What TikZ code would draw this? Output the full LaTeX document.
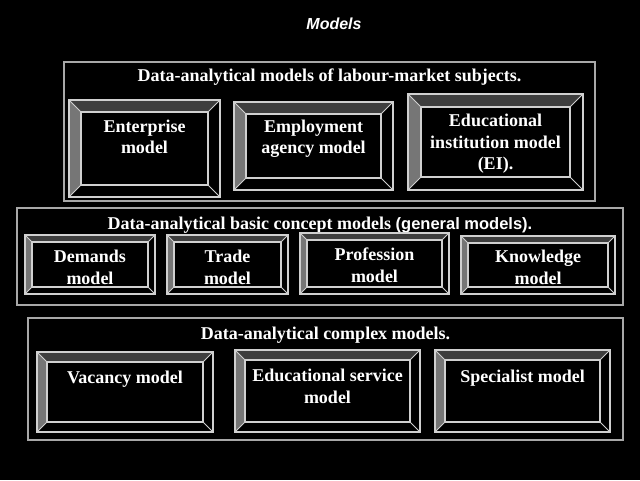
\documentclass[tikz,border=0pt]{standalone}
\usepackage{fontspec}
\setmainfont{Liberation Serif}
\setsansfont{Liberation Sans}
\usepackage{tikz}
\usetikzlibrary{positioning}
\definecolor{edge}{HTML}{D0D0D0}
\definecolor{framegray}{HTML}{A8A8A8}
\definecolor{topgray}{HTML}{3E3E3E}
\definecolor{leftgray}{HTML}{767676}
\begin{document}
\begin{tikzpicture}[
x=1pt,y=1pt,
frame/.style={draw=framegray,line width=1.4pt,inner sep=0pt},
bevel/.style={draw=edge,fill=black,line width=1.1pt,inner sep=0pt,
  path picture={
    \path (path picture bounding box.north west) coordinate (pa)
          (path picture bounding box.north east) coordinate (pb)
          (path picture bounding box.south east) coordinate (pc)
          (path picture bounding box.south west) coordinate (pd);
    \path ([shift={(#1,-#1)}]pa) coordinate (qa)
          ([shift={(-#1,-#1)}]pb) coordinate (qb)
          ([shift={(-#1,#1)}]pc) coordinate (qc)
          ([shift={(#1,#1)}]pd) coordinate (qd);
    \fill[topgray] (pa)--(pb)--(qb)--(qa)--cycle;
    \fill[leftgray] (pa)--(qa)--(qd)--(pd)--cycle;
    \draw[edge,line width=1.1pt] (qa) rectangle (qc);
    \draw[edge,line width=0.9pt] (pa)--(qa) (pb)--(qb) (pc)--(qc) (pd)--(qd);
  }},
boxtext/.style={text=white,align=center,anchor=base,inner sep=0pt,font=\fontsize{18}{21.5}\selectfont\bfseries},
grouptitle/.style={text=white,anchor=base,inner sep=0pt,font=\fontsize{18}{21}\selectfont\bfseries}
]
\fill[black] (0,0) rectangle (640,480);

\node[text=white,anchor=base,inner sep=0pt,font=\sffamily\bfseries\itshape\fontsize{16}{18}\selectfont] (head) at (334,450) {Models};

% labour-market subjects
\node[frame,minimum width=531pt,minimum height=139pt] (grp1) at (329.5,348.5) {};
\node[grouptitle] (tit1) at (329.5,398) {Data-analytical models of labour-market subjects.};
\node[bevel=12pt,minimum width=151pt,minimum height=97pt] (ent) at (144.5,331.5) {};
\node[boxtext] (t-ent) at (144.5,326) {Enterprise\\model};
\node[bevel=12pt,minimum width=159pt,minimum height=88pt] (agency) at (313.5,334) {};
\node[boxtext] (t-agency) at (313.5,326) {Employment\\agency model};
\node[bevel=13pt,minimum width=175pt,minimum height=96pt] (edu) at (495.5,338) {};
\node[boxtext] (t-edu) at (495.5,310) {Educational\\institution model\\(EI).};

% general models
\node[frame,minimum width=606pt,minimum height=97pt] (grp2) at (320,223.5) {};
\node[grouptitle] (tit2) at (320,250) {Data-analytical basic concept models {\sffamily\fontsize{16.5}{20}\selectfont(general models).}};
\node[bevel=7pt,minimum width=130pt,minimum height=59pt] (dem) at (90,215.5) {};
\node[boxtext] (t-dem) at (90,196) {Demands\\model};
\node[bevel=7pt,minimum width=121pt,minimum height=59pt] (trade) at (227.5,215.5) {};
\node[boxtext] (t-trade) at (227.5,196) {Trade\\model};
\node[bevel=7pt,minimum width=149pt,minimum height=61pt] (prof) at (374.5,216.5) {};
\node[boxtext] (t-prof) at (374.5,198) {Profession\\model};
\node[bevel=7pt,minimum width=154pt,minimum height=58pt] (know) at (538,215) {};
\node[boxtext] (t-know) at (538,196) {Knowledge\\model};

% complex models
\node[frame,minimum width=595pt,minimum height=122pt] (grp3) at (325.5,101) {};
\node[grouptitle] (tit3) at (325.5,141) {Data-analytical complex models.};
\node[bevel=10pt,minimum width=176pt,minimum height=80pt] (vac) at (125,88) {};
\node[boxtext] (t-vac) at (125,97) {Vacancy model};
\node[bevel=10pt,minimum width=185pt,minimum height=82pt] (serv) at (327.5,89) {};
\node[boxtext] (t-serv) at (327.5,77) {Educational service\\model};
\node[bevel=10pt,minimum width=175pt,minimum height=82pt] (spec) at (522.5,89) {};
\node[boxtext] (t-spec) at (522.5,98) {Specialist model};
\end{tikzpicture}
\end{document}
